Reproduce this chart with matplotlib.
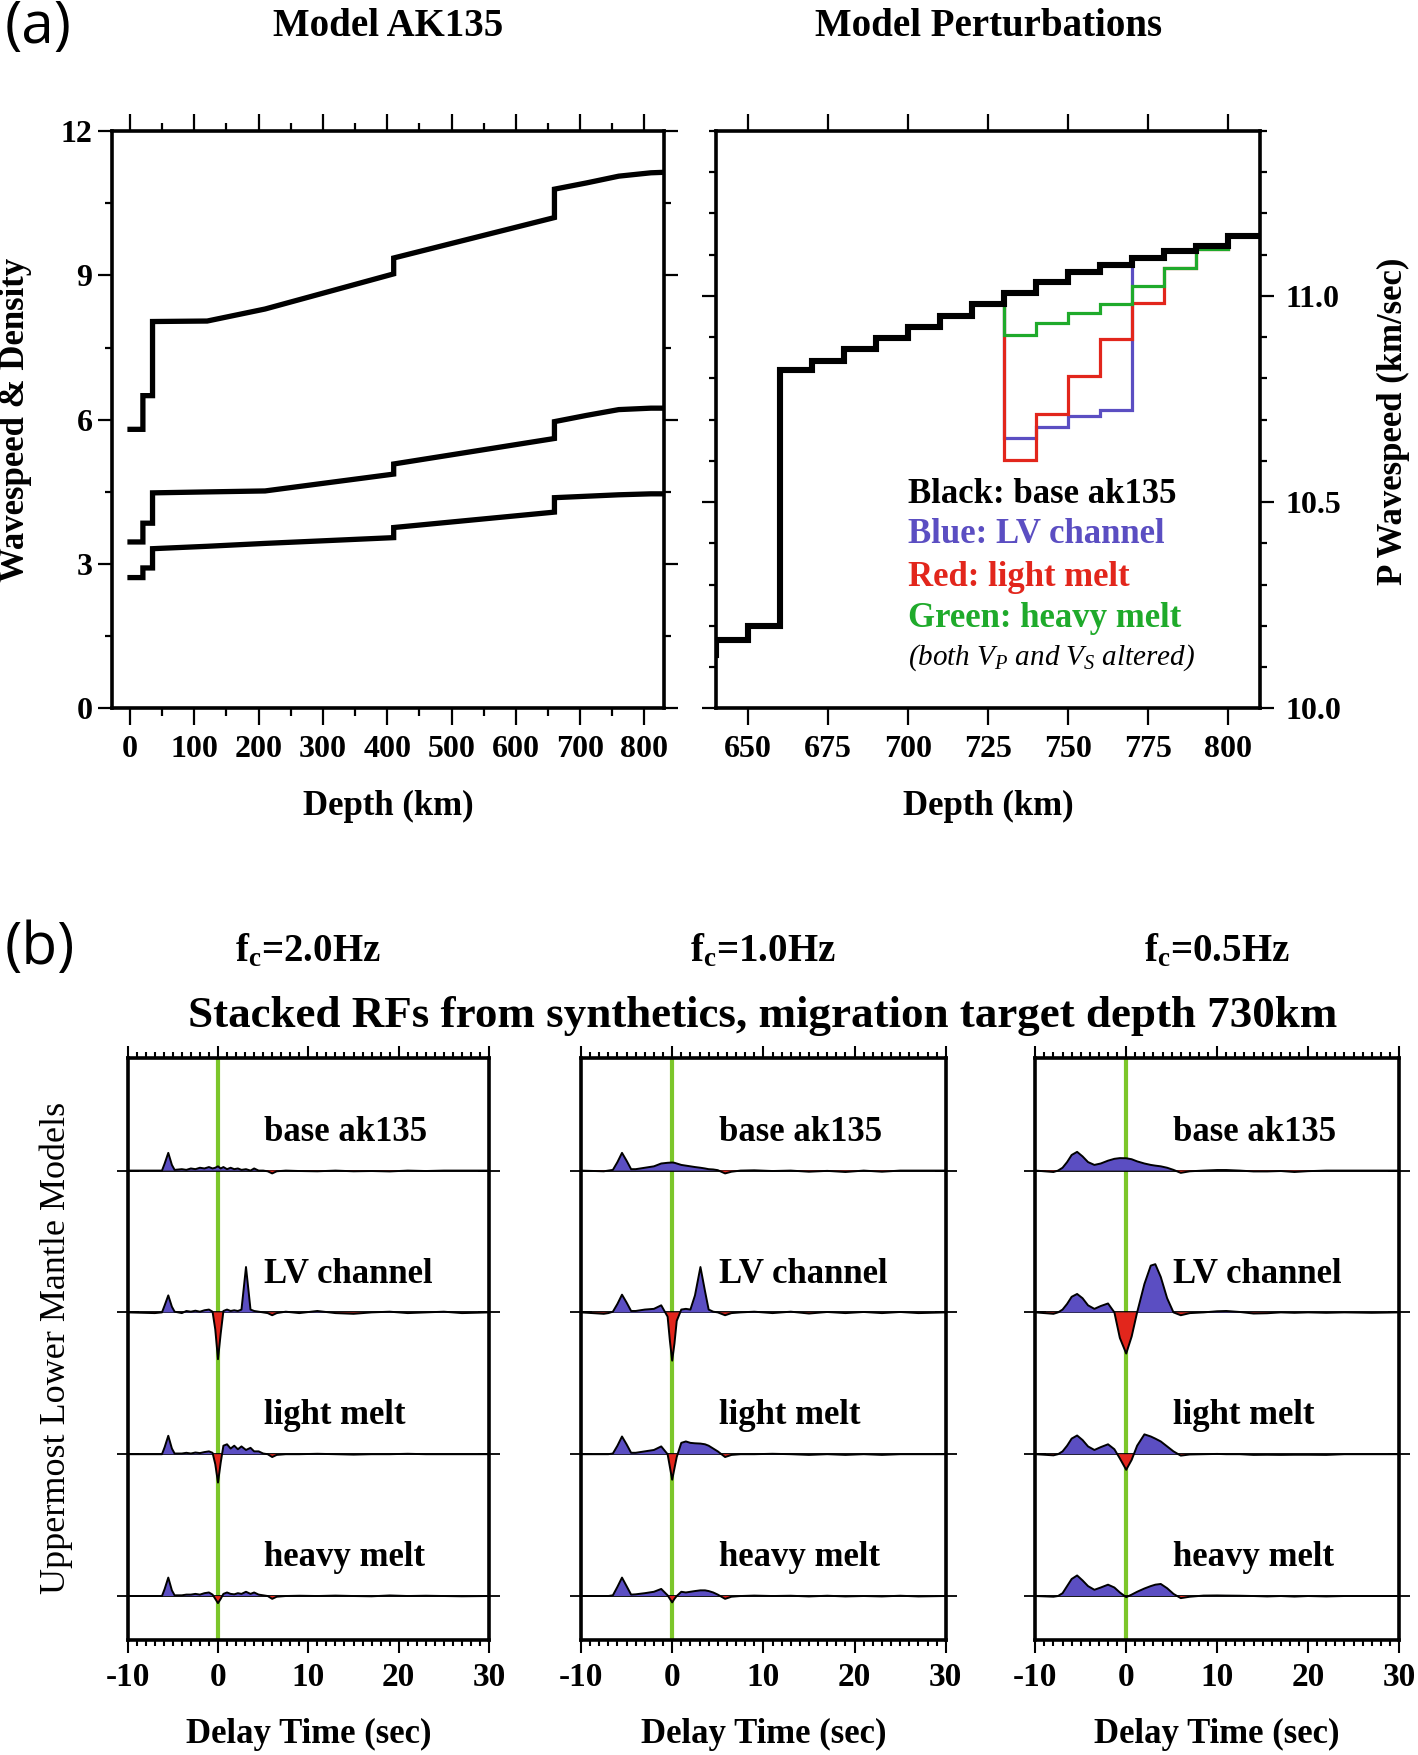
import numpy as np
import matplotlib
matplotlib.use("Agg")
import matplotlib.pyplot as plt
from matplotlib.ticker import MultipleLocator, NullLocator, FormatStrFormatter

plt.rcParams['font.family'] = ['Liberation Serif', 'DejaVu Serif']
plt.rcParams['font.weight'] = 'bold'
plt.rcParams['axes.unicode_minus'] = False
plt.rcParams['mathtext.fontset'] = 'custom'
plt.rcParams['mathtext.rm'] = 'Liberation Serif:bold'
plt.rcParams['mathtext.it'] = 'Liberation Serif:italic:normal'
plt.rcParams['mathtext.bf'] = 'Liberation Serif:bold'

BLUE = '#5b4ec2'
RED = '#e2261c'
GREEN = '#1faa2b'
LIME = '#7cc62a'

# ---- (a) left: AK135 profiles
ak_depth = [0, 20, 20, 35, 35, 120, 210, 410, 410, 660, 660, 710, 760, 810, 830]
ak_vp = [5.80, 5.80, 6.50, 6.50, 8.04, 8.05, 8.30, 9.03, 9.36, 10.20, 10.79, 10.92, 11.06, 11.13, 11.14]
ak_vs = [3.46, 3.46, 3.85, 3.85, 4.48, 4.50, 4.52, 4.87, 5.08, 5.61, 5.96, 6.09, 6.21, 6.24, 6.24]
ak_rho = [2.72, 2.72, 2.92, 2.92, 3.32, 3.37, 3.43, 3.55, 3.76, 4.08, 4.38, 4.41, 4.44, 4.46, 4.46]

# ---- (a) right: P wavespeed perturbations, 10 km layers
pert_edges = list(range(630, 811, 10))
vp_black = [10.13, 10.165, 10.20, 10.82, 10.843, 10.872, 10.898, 10.925, 10.951,
            10.981, 11.007, 11.034, 11.057, 11.076, 11.093, 11.108, 11.12, 11.146]
mod_edges = list(range(720, 811, 10))
vp_blue = [10.981, 10.656, 10.682, 10.709, 10.723, 11.093, 11.108, 11.12, 11.146]
vp_red = [10.981, 10.603, 10.713, 10.805, 10.896, 10.983, 11.067, 11.114, 11.146]
vp_green = [10.981, 10.906, 10.935, 10.959, 10.980, 11.023, 11.067, 11.114, 11.146]

legend_lines = ["Black: base ak135", "Blue: LV channel", "Red: light melt", "Green: heavy melt"]
legend_colors = ['black', BLUE, RED, GREEN]

# ---- (b) stacked receiver functions (delay time s, amplitude in trace spacings)
t_20 = [-10, -7, -6.2, -5.9, -5.5, -5.1, -4.8, -4.0, -3.5, -3.0,
        -2.5, -2.0, -1.5, -1.0, -0.6, -0.3, 0.0, 0.3, 0.6, 1.0,
        1.4, 1.8, 2.2, 2.6, 3.1, 3.6, 4.0, 4.5, 5.0, 5.5,
        6.0, 6.5, 7.5, 9, 11, 13, 15, 17, 19, 21, 23, 25, 27, 30]
rf_base_20 = [0, 0, 0, 0.05, 0.125, 0.04, 0.005, 0.01, 0.005, 0.015,
              0.01, 0.02, 0.015, 0.025, 0.015, 0.02, 0.03, 0.015, 0.025, 0.01,
              0.02, 0.01, 0.015, 0.005, 0.01, 0.0, 0.015, 0.0, 0.0, -0.005,
              -0.02, -0.005, 0, -0.003, -0.005, 0, -0.005, -0.003, -0.006, 0,
              -0.003, 0, 0, 0]
rf_lv_20 = [0, -0.005, 0, 0.05, 0.12, 0.04, 0.005, -0.005, 0.01, 0.005,
            0.012, 0.005, 0.015, 0.02, 0.005, -0.12, -0.33, -0.15, 0.01, 0.02,
            0.01, 0.015, 0.01, 0.02, 0.32, 0.02, 0.01, 0.005, 0.0, -0.005,
            -0.02, -0.005, 0.005, -0.005, 0.01, -0.005, -0.01, 0, 0.005, -0.005,
            0, 0.005, -0.005, 0]
rf_light_20 = [0, 0, 0, 0.05, 0.13, 0.04, 0.005, 0.005, 0.01, 0.005,
               0.012, 0.008, 0.015, 0.02, 0.01, -0.07, -0.2, -0.06, 0.06, 0.07,
               0.04, 0.06, 0.035, 0.055, 0.03, 0.045, 0.02, 0.02, 0.005, 0,
               -0.02, -0.005, 0, 0, 0.003, 0, -0.003, 0, 0, 0.003,
               0, 0, 0, 0]
rf_heavy_20 = [0, 0, 0, 0.05, 0.13, 0.04, 0.005, 0.005, 0.01, 0.01,
               0.015, 0.01, 0.02, 0.025, 0.01, -0.02, -0.05, -0.02, 0.015, 0.025,
               0.015, 0.012, 0.02, 0.015, 0.03, 0.015, 0.025, 0.01, 0.005, 0,
               -0.02, -0.005, 0, 0.002, 0, 0.003, 0, -0.002, 0.004, 0,
               0.002, 0, -0.002, 0]

t_10 = [-10, -7.5, -7, -6.5, -6, -5.5, -5, -4.5, -4, -3,
        -2, -1.2, -0.5, -0.25, 0, 0.25, 0.5, 1.0, 1.5, 2.0,
        2.5, 3.1, 3.6, 4.0, 4.5, 5.0, 5.8, 6.5, 7.5, 9,
        11, 13, 15, 17, 19, 21, 23, 25, 27, 30]
rf_base_10 = [0, -0.005, 0, 0.005, 0.06, 0.125, 0.07, 0.01, 0.01, 0.02,
              0.03, 0.05, 0.055, 0.056, 0.057, 0.055, 0.05, 0.04, 0.035, 0.03,
              0.025, 0.02, 0.015, 0.01, 0.008, 0.003, -0.02, -0.008, 0, 0.002,
              -0.003, 0, -0.008, -0.002, -0.01, 0, -0.008, 0, 0, 0]
rf_lv_10 = [0, -0.01, -0.005, 0.005, 0.06, 0.125, 0.07, 0.01, 0.01, 0.02,
            0.025, 0.05, -0.03, -0.2, -0.34, -0.22, -0.06, 0.02, 0.025, 0.02,
            0.12, 0.32, 0.15, 0.02, 0.005, 0, -0.02, -0.005, 0, 0.005,
            -0.005, 0.005, -0.008, 0.003, -0.005, 0.003, -0.005, 0.003, -0.005, 0]
rf_light_10 = [0, 0, 0, 0.005, 0.06, 0.125, 0.07, 0.01, 0.01, 0.02,
               0.03, 0.055, 0.0, -0.09, -0.18, -0.1, -0.02, 0.08, 0.09, 0.08,
               0.077, 0.075, 0.07, 0.06, 0.04, 0.02, -0.02, -0.005, 0, 0,
               0.003, 0, -0.005, 0, -0.005, 0, -0.005, 0, 0, 0]
rf_heavy_10 = [0, 0, 0, 0.005, 0.065, 0.13, 0.07, 0.01, 0.012, 0.02,
               0.03, 0.05, 0.005, -0.02, -0.045, -0.02, 0.0, 0.03, 0.025, 0.03,
               0.035, 0.04, 0.04, 0.035, 0.025, 0.01, -0.02, -0.005, 0, 0.003,
               0, 0.002, -0.003, 0.002, -0.003, 0, -0.003, 0.002, -0.003, 0]

t_05 = [-10, -8, -7.5, -7, -6.5, -6, -5.4, -4.8, -4.2, -3.5,
        -2.8, -2.0, -1.3, -0.7, 0, 0.6, 1.2, 2.0, 2.7, 3.2,
        3.8, 4.5, 5.2, 6.0, 7.0, 8.5, 10, 11, 12.5, 14,
        15.5, 17, 18.5, 20, 22, 24, 27, 30]
rf_base_05 = [0, -0.01, 0, 0.02, 0.06, 0.11, 0.132, 0.1, 0.06, 0.04,
              0.05, 0.07, 0.083, 0.088, 0.087, 0.08, 0.065, 0.05, 0.04, 0.035,
              0.03, 0.02, 0.005, -0.016, -0.005, 0, 0.004, 0.004, 0, -0.006,
              -0.006, -0.003, -0.01, -0.004, 0, 0, 0, 0]
rf_lv_05 = [0, -0.01, 0, 0.02, 0.06, 0.11, 0.13, 0.1, 0.05, 0.025,
            0.045, 0.063, 0.0, -0.18, -0.29, -0.17, 0.0, 0.2, 0.33, 0.34,
            0.25, 0.1, 0.0, -0.02, -0.005, 0, 0.008, 0.01, 0.003, -0.008,
            -0.006, 0, -0.003, 0, -0.003, 0, -0.003, 0]
rf_light_05 = [0, -0.008, 0, 0.02, 0.06, 0.11, 0.132, 0.1, 0.055, 0.03,
               0.05, 0.07, 0.035, -0.03, -0.11, -0.04, 0.06, 0.14, 0.125, 0.11,
               0.09, 0.055, 0.02, -0.01, -0.002, 0, 0.002, 0, 0, -0.005,
               -0.004, -0.005, -0.004, -0.004, -0.005, 0, 0, 0]
rf_heavy_05 = [0, -0.005, 0, 0.02, 0.07, 0.12, 0.145, 0.11, 0.07, 0.044,
               0.06, 0.08, 0.06, 0.025, -0.008, 0.01, 0.03, 0.053, 0.07, 0.08,
               0.085, 0.055, 0.015, -0.015, -0.005, 0.003, 0.004, 0.003, 0.002, 0,
               -0.003, 0, -0.004, 0, -0.003, 0, 0, 0]

model_names = ["base ak135", "LV channel", "light melt", "heavy melt"]
model_offsets = [3, 2, 1, 0]
freq_labels = ["2.0", "1.0", "0.5"]
rf_times = [t_20, t_10, t_05]
rf_sets = [[rf_base_20, rf_lv_20, rf_light_20, rf_heavy_20],
           [rf_base_10, rf_lv_10, rf_light_10, rf_heavy_10],
           [rf_base_05, rf_lv_05, rf_light_05, rf_heavy_05]]

# ---- figure
fig = plt.figure(figsize=(14.18, 17.55), dpi=100)
SPW = 2.6


def frame(ax):
    for s in ax.spines.values():
        s.set_linewidth(SPW)


# (a) left
ax1 = fig.add_axes([0.0790, 0.5963, 0.3891, 0.3291])
frame(ax1)
for prof in (ak_vp, ak_vs, ak_rho):
    ax1.plot(ak_depth, prof, color='k', lw=3.8, solid_joinstyle='miter')
ax1.set_xlim(-28, 830)
ax1.set_ylim(0, 12)
ax1.xaxis.set_major_locator(MultipleLocator(100))
ax1.xaxis.set_minor_locator(MultipleLocator(50))
ax1.yaxis.set_major_locator(MultipleLocator(3))
ax1.yaxis.set_minor_locator(MultipleLocator(1.5))
ax1.tick_params(axis='x', which='both', top=True, bottom=True, direction='out', width=1.6)
ax1.tick_params(axis='x', which='major', length=12, labelsize=23, pad=7)
ax1.tick_params(axis='x', which='minor', length=6)
ax1.tick_params(axis='y', which='both', left=True, right=True, direction='out', width=1.6)
ax1.tick_params(axis='y', which='major', length=10, labelsize=23, pad=4)
ax1.tick_params(axis='y', which='minor', length=5)

# (a) right
ax2 = fig.add_axes([0.5051, 0.5963, 0.3838, 0.3291])
frame(ax2)
ax2.stairs(vp_blue, mod_edges, color=BLUE, lw=2.3, baseline=None)
ax2.stairs(vp_red, mod_edges, color=RED, lw=2.3, baseline=None)
ax2.stairs(vp_green, mod_edges, color=GREEN, lw=2.3, baseline=None)
ax2.stairs(vp_black, pert_edges, color='k', lw=4.4, baseline=None)
ax2.set_xlim(640, 810)
ax2.set_ylim(10.0, 11.4)
ax2.xaxis.set_major_locator(MultipleLocator(25))
ax2.yaxis.set_major_locator(MultipleLocator(0.5))
ax2.yaxis.set_minor_locator(MultipleLocator(0.1))
ax2.yaxis.set_major_formatter(FormatStrFormatter('%.1f'))
ax2.tick_params(axis='x', which='major', top=True, bottom=True, direction='out',
                length=12, width=1.6, labelsize=23, pad=7)
ax2.tick_params(axis='y', which='both', left=True, right=True, labelleft=False,
                labelright=True, direction='out', width=1.6)
ax2.tick_params(axis='y', which='major', length=10, labelsize=23, pad=8)
ax2.tick_params(axis='y', which='minor', length=5)
leg_y = [10.519, 10.421, 10.318, 10.217]
for txt, col, yv in zip(legend_lines, legend_colors, leg_y):
    ax2.text(700, yv, txt, color=col, fontsize=25, va='center', ha='left')
ax2.text(700, 10.122, r"(both $V_P$ and $V_S$ altered)", fontsize=21,
         style='italic', weight='normal', va='center', ha='left')

# (b) receiver functions
b_lefts = [0.0900, 0.4097, 0.7301]
b_widths = [0.2549, 0.2573, 0.2565]
for k in range(3):
    ax = fig.add_axes([b_lefts[k], 0.0657, b_widths[k], 0.3317])
    frame(ax)
    ax.axvline(0, color=LIME, lw=3, zorder=1)
    t = np.array(rf_times[k])
    for off, amp, name in zip(model_offsets, rf_sets[k], model_names):
        a = np.array(amp)
        ax.axhline(off, color='k', lw=1.3, zorder=2)
        ax.fill_between(t, off, off + a, where=a >= 0, interpolate=True,
                        color=BLUE, lw=0, zorder=3)
        ax.fill_between(t, off, off + a, where=a <= 0, interpolate=True,
                        color=RED, lw=0, zorder=3)
        ax.plot(t, off + a, color='k', lw=1.4, zorder=4)
        ax.text(5.1, off + 0.27, name, fontsize=25, va='center', ha='left')
    ax.set_xlim(-10, 30)
    ax.set_ylim(-0.308, 3.797)
    ax.xaxis.set_major_locator(MultipleLocator(10))
    ax.xaxis.set_minor_locator(MultipleLocator(1))
    ax.tick_params(axis='x', which='both', top=True, bottom=True, direction='out', width=1.5)
    ax.tick_params(axis='x', which='major', length=9, labelsize=24, pad=7)
    ax.tick_params(axis='x', which='minor', length=4.5)
    ax.set_yticks(model_offsets)
    ax.set_yticklabels([])
    ax.yaxis.set_minor_locator(NullLocator())
    ax.tick_params(axis='y', which='major', left=True, right=True, direction='inout',
                   length=16, width=1.3)
    cx = b_lefts[k] + b_widths[k] / 2
    fig.text(cx, 0.4581, r"f$_\mathbf{c}$=" + freq_labels[k] + "Hz", fontsize=28,
             ha='center', va='center')
    fig.text(cx, 0.0115, "Delay Time (sec)", fontsize=25, ha='center', va='center')

# figure texts
fig.text(0.003, 0.984, "(a)", fontsize=42, family=['Open Sans', 'DejaVu Sans'],
         weight='normal', ha='left', va='center')
fig.text(0.003, 0.4593, "(b)", fontsize=42, family=['Open Sans', 'DejaVu Sans'],
         weight='normal', ha='left', va='center')
fig.text(0.2735, 0.985, "Model AK135", fontsize=28, ha='center', va='center')
fig.text(0.6970, 0.985, "Model Perturbations", fontsize=28, ha='center', va='center')
fig.text(0.2735, 0.5407, "Depth (km)", fontsize=25, ha='center', va='center')
fig.text(0.6970, 0.5407, "Depth (km)", fontsize=25, ha='center', va='center')
fig.text(0.011, 0.7607, "Wavespeed & Density", fontsize=25, rotation=90,
         ha='center', va='center')
fig.text(0.9825, 0.760, "P Wavespeed (km/sec)", fontsize=25, rotation=90,
         ha='center', va='center')
fig.text(0.538, 0.4211, "Stacked RFs from synthetics, migration target depth 730km",
         fontsize=32.4, ha='center', va='center')
fig.text(0.0395, 0.2322, "Uppermost Lower Mantle Models", fontsize=26, weight='normal',
         rotation=90, ha='center', va='center')

fig.savefig("out.png", dpi=100)
